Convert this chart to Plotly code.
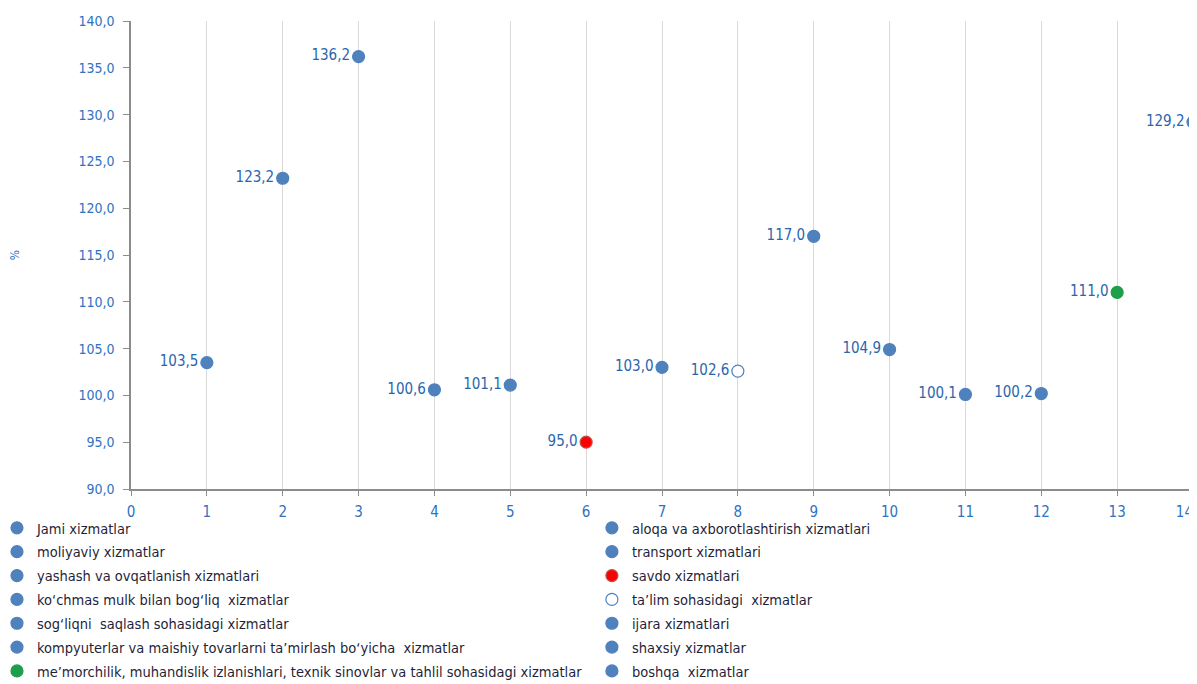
import plotly.graph_objects as go

categories = [
    "Jami xizmatlar",
    "aloqa va axborotlashtirish xizmatlari",
    "moliyaviy xizmatlar",
    "transport xizmatlari",
    "yashash va ovqatlanish xizmatlari",
    "savdo xizmatlari",
    "ko\u2018chmas mulk bilan bog\u2018liq  xizmatlar",
    "ta\u2019lim sohasidagi  xizmatlar",
    "sog\u2018liqni  saqlash sohasidagi xizmatlar",
    "ijara xizmatlari",
    "kompyuterlar va maishiy tovarlarni ta\u2019mirlash bo\u2018yicha  xizmatlar",
    "shaxsiy xizmatlar",
    "me\u2019morchilik, muhandislik izlanishlari, texnik sinovlar va tahlil sohasidagi xizmatlar",
    "boshqa  xizmatlar",
]
x_positions = [1, 2, 3, 4, 5, 6, 7, 8, 9, 10, 11, 12, 13, 14]
values = [103.5, 123.2, 136.2, 100.6, 101.1, 95.0, 103.0, 102.6, 117.0, 104.9, 100.1, 100.2, 111.0, 129.2]
x_ticks = [0, 1, 2, 3, 4, 5, 6, 7, 8, 9, 10, 11, 12, 13, 14]

BLUE = "#4F81BD"
fill_colors = [BLUE, BLUE, BLUE, BLUE, BLUE, "#FF0000", BLUE, "white", BLUE, BLUE, BLUE, BLUE, "#1E9E4A", BLUE]
line_colors = [BLUE, BLUE, BLUE, BLUE, BLUE, "#C0504D", BLUE, BLUE, BLUE, BLUE, BLUE, BLUE, "#1E9E4A", BLUE]

FONT = "DejaVu Sans Condensed, Liberation Sans Narrow, sans-serif"
LABEL_COLOR = "#2A66AE"
TICK_COLOR = "#2F72C2"

# last tick label padded with invisible characters so it stays inside the page edge
x_ticktext = [str(t) for t in x_ticks]
x_ticktext[-1] = x_ticktext[-1] + "<span style='color:rgba(0,0,0,0)'>00</span>"

fig = go.Figure()
for i, (name, xv, yv) in enumerate(zip(categories, x_positions, values)):
    fig.add_trace(go.Scatter(
        x=[xv], y=[yv], name=name, mode="markers+text",
        marker=dict(size=12, color=fill_colors[i], line=dict(width=1.2, color=line_colors[i])),
        texttemplate="%{y:.1f}", textposition="middle left",
        textfont=dict(family=FONT, size=15, color=LABEL_COLOR),
        legend="legend" if i % 2 == 0 else "legend2",
        legendgroup="g%d" % i,
        cliponaxis=True,
    ))

# page body has an 8px margin, so the figure is 16px smaller and margins shifted by 8px
fig.update_layout(
    width=1189, height=676,
    margin=dict(l=123, r=4, t=13, b=195, autoexpand=False),
    plot_bgcolor="white", paper_bgcolor="white",
    separators=", ",
    font=dict(family=FONT),
    xaxis=dict(
        range=[0, 14], tickvals=x_ticks, ticktext=x_ticktext,
        showgrid=True, gridcolor="#D9D9D9", gridwidth=1.2,
        zeroline=False, showline=True, linecolor="#8C8C8C", linewidth=1.5,
        ticks="outside", ticklen=5, tickcolor="#8C8C8C", ticklabelstandoff=3,
        ticklabeloverflow="allow",
        tickfont=dict(family=FONT, size=15, color=TICK_COLOR),
    ),
    yaxis=dict(
        range=[90, 140], dtick=5, tickformat=".1f",
        showgrid=False, zeroline=False, showline=True, linecolor="#8C8C8C", linewidth=1.5,
        ticks="outside", ticklen=6, tickcolor="#8C8C8C", ticklabelstandoff=6,
        tickfont=dict(family=FONT, size=14, color=TICK_COLOR),
        title=dict(text="%", font=dict(family=FONT, size=12, color=TICK_COLOR), standoff=66),
    ),
    legend=dict(
        x=-0.1262, y=-0.049, xanchor="left", yanchor="top",
        font=dict(family=FONT, size=14.5, color="#1F1F3A"), itemwidth=30,
        bgcolor="rgba(0,0,0,0)", tracegroupgap=2,
    ),
    legend2=dict(
        x=0.434, y=-0.049, xanchor="left", yanchor="top",
        font=dict(family=FONT, size=14.5, color="#1F1F3A"), itemwidth=30,
        bgcolor="rgba(0,0,0,0)", tracegroupgap=2,
    ),
)

fig.write_html("out.html")
